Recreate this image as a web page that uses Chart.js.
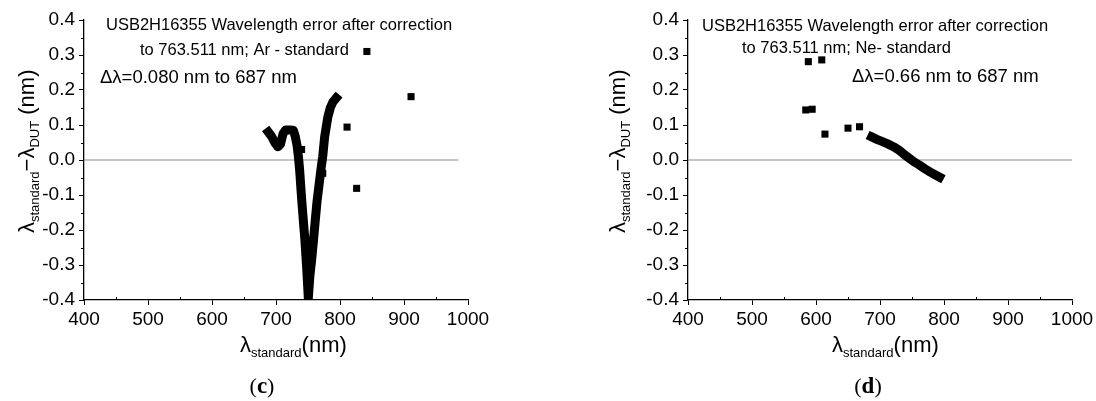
<!DOCTYPE html>
<html>
<head>
<meta charset="utf-8">
<script src="https://cdn.jsdelivr.net/npm/chart.js@4.4.1/dist/chart.umd.min.js"></script>
<style>
  html, body { margin: 0; padding: 0; background: #fff; }
  #wrap { position: relative; width: 1096px; height: 401px; overflow: hidden; }
  canvas { position: absolute; top: 0; }
</style>
</head>
<body>
<div id="wrap">
  <canvas id="panelC" width="548" height="401" style="left:0"></canvas>
  <canvas id="panelD" width="548" height="401" style="left:548px"></canvas>
</div>
<script>
// ---- Panel (c): Ar lamp residuals ----
const arCurveX = [688, 693, 698, 703, 707, 711, 715, 721, 727, 730, 733, 735, 737, 740, 743, 745, 748, 750.5, 753, 756, 759, 764, 770, 773, 776, 781, 785, 789, 794];
const arCurveY = [0.080, 0.068, 0.050, 0.038, 0.045, 0.075, 0.086, 0.086, 0.085, 0.068, 0.040, 0.010, -0.030, -0.110, -0.180, -0.225, -0.310, -0.395, -0.330, -0.280, -0.220, -0.120, -0.030, 0.010, 0.066, 0.123, 0.150, 0.166, 0.177];
const arPointsX = [740, 773, 811, 826, 842, 911];
const arPointsY = [0.030, -0.038, 0.094, -0.081, 0.310, 0.181];

// ---- Panel (d): Ne lamp residuals ----
const neCurveX = [687, 695, 703, 712, 721, 729, 737, 745, 753, 762, 770, 778, 786, 793];
const neCurveY = [0.066, 0.059, 0.053, 0.046, 0.038, 0.029, 0.017, 0.006, -0.005, -0.015, -0.025, -0.034, -0.042, -0.049];
const nePointsX = [584, 594, 588, 609, 614, 650, 668];
const nePointsY = [0.143, 0.145, 0.281, 0.286, 0.074, 0.091, 0.095];

// zero reference lines (x extent)
const arZeroX = [400, 985];
const neZeroX = [400, 1000];

// axes
const xTickValues = [400, 500, 600, 700, 800, 900, 1000];
const xTickLabels = ['400', '500', '600', '700', '800', '900', '1000'];
const xMinorValues = [450, 550, 650, 750, 850, 950];
const yTickValues = [-0.4, -0.3, -0.2, -0.1, 0.0, 0.1, 0.2, 0.3, 0.4];
const yTickLabels = ['-0.4', '-0.3', '-0.2', '-0.1', '0.0', '0.1', '0.2', '0.3', '0.4'];
const yMinorValues = [-0.35, -0.25, -0.15, -0.05, 0.05, 0.15, 0.25, 0.35];

const FONT = "'Liberation Sans', Arial, sans-serif";
const SERIF = "'Liberation Serif', 'DejaVu Serif', serif";
Chart.defaults.font.family = FONT;
Chart.defaults.color = '#000';

function pairs(xs, ys) { return xs.map((x, i) => ({ x: x, y: ys[i] })); }

function drawRich(ctx, segs, x, y) {
  let cx = x;
  for (const s of segs) {
    ctx.font = s.font;
    ctx.fillText(s.t, cx, y + (s.dy || 0));
    cx += ctx.measureText(s.t).width;
  }
}

function axisTitleSegs() {
  return {
    main: (t) => ({ t: t, font: '22px ' + FONT }),
    sub: (t) => ({ t: t, font: '13px ' + FONT, dy: 5 })
  };
}

// Minor tick marks on both axes
const minorTicks = {
  id: 'minorTicks',
  afterDraw(chart) {
    const ctx = chart.ctx, xs = chart.scales.x, ys = chart.scales.y, a = chart.chartArea;
    ctx.save();
    ctx.strokeStyle = '#000';
    ctx.lineWidth = 1;
    ctx.beginPath();
    for (const v of xMinorValues) {
      const px = Math.round(xs.getPixelForValue(v)) + 0.5;
      ctx.moveTo(px, a.bottom);
      ctx.lineTo(px, a.bottom - 3);
    }
    for (const v of yMinorValues) {
      const py = Math.round(ys.getPixelForValue(v)) + 0.5;
      ctx.moveTo(a.left, py);
      ctx.lineTo(a.left - 3, py);
    }
    ctx.stroke();
    ctx.restore();
  }
};

// Panel titles, annotations and axis titles
const panelText = {
  id: 'panelText',
  afterDraw(chart, args, o) {
    const ctx = chart.ctx;
    const seg = axisTitleSegs();
    ctx.save();
    ctx.fillStyle = '#000';
    ctx.textBaseline = 'alphabetic';
    ctx.textAlign = 'left';

    ctx.font = '16.5px ' + FONT;
    ctx.fillText(o.line1, o.line1X, o.line1Y);
    ctx.fillText(o.line2, o.line2X, o.line2Y);
    ctx.font = '18.5px ' + FONT;
    ctx.fillText(o.delta, o.deltaX, o.deltaY);

    // x axis title
    drawRich(ctx, [seg.main('\u03bb'), seg.sub('standard'), seg.main('(nm)')], o.xTitleX, o.xTitleY);

    // y axis title (rotated)
    ctx.translate(o.yTitleX, o.yTitleY);
    ctx.rotate(-Math.PI / 2);
    drawRich(ctx, [seg.main('\u03bb'), seg.sub('standard'), seg.main('\u2212\u03bb'), seg.sub('DUT'), seg.main(' (nm)')], 0, 0);
    ctx.setTransform(1, 0, 0, 1, 0, 0);

    // panel letter
    const parts = [
      { t: '(', font: '22px ' + SERIF },
      { t: o.letter, font: 'bold 23px ' + SERIF },
      { t: ')', font: '22px ' + SERIF }
    ];
    let w = 0;
    for (const p of parts) { ctx.font = p.font; w += ctx.measureText(p.t).width; }
    drawRich(ctx, parts, o.letterX - w / 2, o.letterY);
    ctx.restore();
  }
};

function makeChart(id, curveX, curveY, ptsX, ptsY, zeroX, pad, text) {
  return new Chart(document.getElementById(id), {
    type: 'scatter',
    data: {
      datasets: [
        {
          data: zeroX.map(x => ({ x: x, y: 0 })),
          showLine: true, borderColor: '#8a8a8a', borderWidth: 1,
          pointRadius: 0, order: 3
        },
        {
          data: pairs(curveX, curveY),
          showLine: true, borderColor: '#000', borderWidth: 9,
          borderCapStyle: 'square', borderJoinStyle: 'round',
          pointRadius: 0, clip: 0, order: 2
        },
        {
          data: pairs(ptsX, ptsY),
          showLine: false, pointStyle: 'rect', pointRadius: 5,
          backgroundColor: '#000', borderWidth: 0, order: 1
        }
      ]
    },
    options: {
      responsive: false,
      animation: false,
      events: [],
      devicePixelRatio: 1,
      layout: { padding: pad },
      plugins: {
        legend: { display: false },
        tooltip: { enabled: false },
        panelText: text
      },
      scales: {
        x: {
          type: 'linear', min: 400, max: 1000,
          afterBuildTicks: s => { s.ticks = xTickValues.map(v => ({ value: v })); },
          afterFit: s => { s.height = 40; s.paddingLeft = 0; s.paddingRight = 0; },
          ticks: {
            autoSkip: false, maxRotation: 0, padding: 3,
            font: { size: 19 }, color: '#000',
            callback: (v, i) => xTickLabels[i]
          },
          grid: { drawOnChartArea: false, drawTicks: true, tickLength: 5, tickColor: '#000', tickWidth: 1 },
          border: { display: true, color: '#000', width: 1.3 }
        },
        y: {
          type: 'linear', min: -0.4, max: 0.4,
          afterBuildTicks: s => { s.ticks = yTickValues.map(v => ({ value: v })); },
          afterFit: s => { s.width = 50; s.paddingTop = 0; s.paddingBottom = 0; },
          ticks: {
            autoSkip: false, padding: 4,
            font: { size: 19 }, color: '#000',
            callback: (v, i) => yTickLabels[i]
          },
          grid: { drawOnChartArea: false, drawTicks: true, tickLength: 5, tickColor: '#000', tickWidth: 1 },
          border: { display: true, color: '#000', width: 1.3 }
        }
      }
    },
    plugins: [minorTicks, panelText]
  });
}

makeChart('panelC', arCurveX, arCurveY, arPointsX, arPointsY, arZeroX,
  { left: 34, top: 20, right: 80, bottom: 61 },
  {
    line1: 'USB2H16355 Wavelength error after correction', line1X: 106, line1Y: 29.5,
    line2: 'to 763.511 nm; Ar - standard', line2X: 140, line2Y: 55,
    delta: '\u0394\u03bb=0.080 nm to 687 nm', deltaX: 100, deltaY: 83,
    xTitleX: 240, xTitleY: 352,
    yTitleX: 34, yTitleY: 233,
    letter: 'c', letterX: 262, letterY: 393
  });

makeChart('panelD', neCurveX, neCurveY, nePointsX, nePointsY, neZeroX,
  { left: 90, top: 20, right: 24, bottom: 61 },
  {
    line1: 'USB2H16355 Wavelength error after correction', line1X: 154, line1Y: 31,
    line2: 'to 763.511 nm; Ne- standard', line2X: 194, line2Y: 53,
    delta: '\u0394\u03bb=0.66 nm to 687 nm', deltaX: 304, deltaY: 82,
    xTitleX: 284, xTitleY: 352,
    yTitleX: 77, yTitleY: 233,
    letter: 'd', letterX: 320, letterY: 393
  });
</script>
</body>
</html>
